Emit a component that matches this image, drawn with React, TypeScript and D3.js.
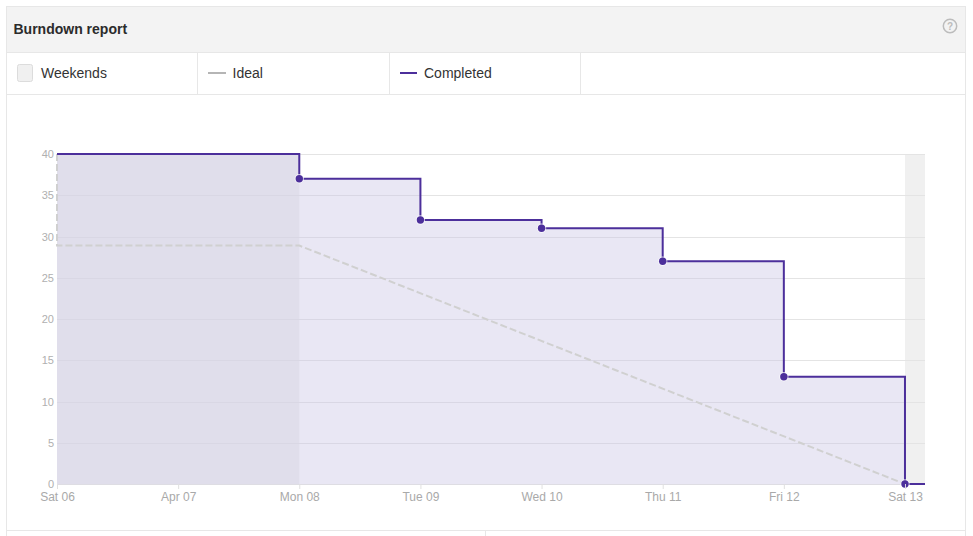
import { useEffect, useRef } from 'react';
import * as d3 from 'd3';

const dayLabels = ["Sat 06", "Apr 07", "Mon 08", "Tue 09", "Wed 10", "Thu 11", "Fri 12", "Sat 13"];
const dayDates = ["2018-04-06", "2018-04-07", "2018-04-08", "2018-04-09", "2018-04-10", "2018-04-11", "2018-04-12", "2018-04-13"];
const completedDates = ["2018-04-06", "2018-04-08", "2018-04-09", "2018-04-10", "2018-04-11", "2018-04-12", "2018-04-13"];
const completedValues = [40, 37, 32, 31, 27, 13, 0];
const idealDates = ["2018-04-06", "2018-04-06", "2018-04-08", "2018-04-13"];
const idealValues = [40, 28.9, 28.9, 0];
const weekends = [["2018-04-06", "2018-04-08"], ["2018-04-13", "2018-04-13T03:58"]];
const yTicks = [0, 5, 10, 15, 20, 25, 30, 35, 40];
const legendCells = [197.5, 389.5, 580.5];

const width = 973;
const height = 536;
const parse = (s: string) => new Date(s + (s.length > 10 ? ":00Z" : "T00:00:00Z"));

interface Pt {
  date: Date;
  value: number;
}

export default function App() {
  const chartRef = useRef<SVGGElement | null>(null);

  useEffect(() => {
    if (!chartRef.current) return;
    const g = d3.select(chartRef.current);
    g.selectAll("*").remove();

    const margin = { top: 154, right: 48, bottom: 52, left: 57 };
    const endDate = parse(weekends[1][1]);
    const x = d3.scaleUtc()
      .domain([parse(dayDates[0]), endDate])
      .range([margin.left, width - margin.right]);
    const y = d3.scaleLinear()
      .domain([0, 40])
      .range([height - margin.bottom, margin.top]);

    const completed: Pt[] = completedDates.map((d, i) => ({ date: parse(d), value: completedValues[i] }));
    const ideal: Pt[] = idealDates.map((d, i) => ({ date: parse(d), value: idealValues[i] }));

    // weekend bands sit under everything
    g.selectAll("rect.weekend")
      .data(weekends)
      .enter()
      .append("rect")
      .attr("class", "weekend")
      .attr("x", d => x(parse(d[0])))
      .attr("y", y(40))
      .attr("width", d => x(parse(d[1])) - x(parse(d[0])))
      .attr("height", y(0) - y(40) + 0.5)
      .attr("fill", "#f0f0f0");

    g.selectAll("line.grid")
      .data(yTicks)
      .enter()
      .append("line")
      .attr("class", "grid")
      .attr("x1", margin.left)
      .attr("x2", width - margin.right)
      .attr("y1", d => Math.round(y(d)) + 0.5)
      .attr("y2", d => Math.round(y(d)) + 0.5)
      .attr("stroke", "#e4e4e4")
      .attr("stroke-width", 1);

    const area = d3.area<Pt>()
      .curve(d3.curveStepAfter)
      .x(d => x(d.date))
      .y0(y(0) + 0.5)
      .y1(d => y(d.value));

    g.append("path")
      .datum(completed)
      .attr("fill", "rgb(200,195,227)")
      .attr("fill-opacity", 0.4)
      .attr("d", area);

    const idealLine = d3.line<Pt>()
      .x(d => x(d.date))
      .y(d => y(d.value));

    g.append("path")
      .datum(ideal)
      .attr("fill", "none")
      .attr("stroke", "#d0d0d0")
      .attr("stroke-width", 2)
      .attr("stroke-dasharray", "7,3")
      .attr("d", idealLine);

    const stepLine = d3.line<Pt>()
      .curve(d3.curveStepAfter)
      .x(d => x(d.date))
      .y(d => y(d.value));

    g.append("path")
      .datum([...completed, { date: endDate, value: 0 }])
      .attr("fill", "none")
      .attr("stroke", "#4c2f9b")
      .attr("stroke-width", 2)
      .attr("d", stepLine);

    g.selectAll("circle")
      .data(completed.slice(1))
      .enter()
      .append("circle")
      .attr("cx", d => x(d.date))
      .attr("cy", d => y(d.value))
      .attr("r", 3.7)
      .attr("fill", "#4c2f9b")
      .attr("stroke", "#ffffff")
      .attr("stroke-opacity", 0.7)
      .attr("stroke-width", 2)
      .style("paint-order", "stroke");

    const xAxis = d3.axisBottom(x)
      .tickValues(dayDates.map(parse))
      .tickFormat((_, i) => dayLabels[i])
      .tickSize(5)
      .tickPadding(3);

    const xG = g.append("g")
      .attr("transform", `translate(0,${y(0)})`)
      .call(xAxis);
    xG.select(".domain").remove();
    xG.selectAll("line").attr("stroke", "#e0e0e0");
    xG.selectAll("text")
      .attr("fill", "#a9a9a9")
      .attr("font-size", "12px")
      .attr("font-family", "'Liberation Sans', Arial, sans-serif");

    const yAxis = d3.axisLeft(y)
      .tickValues(yTicks)
      .tickSize(0)
      .tickPadding(3);

    const yG = g.append("g")
      .attr("transform", `translate(${margin.left},0)`)
      .call(yAxis);
    yG.select(".domain").remove();
    yG.selectAll("text")
      .attr("fill", "#b0b0b0")
      .attr("font-size", "11px")
      .attr("font-family", "'Liberation Sans', Arial, sans-serif");
  }, []);

  const border = "#e7e7e7";
  const font = "'Liberation Sans', Arial, sans-serif";

  return (
    <svg width={width} height={height} style={{ position: "absolute", left: 0, top: 0 }}>
      <rect x={6.5} y={6.5} width={959} height={560} fill="#fff" stroke={border} />
      <rect x={7} y={7} width={958} height={45} fill="#f3f3f3" />
      <line x1={7} x2={965} y1={52.5} y2={52.5} stroke={border} />
      <line x1={7} x2={965} y1={94.5} y2={94.5} stroke={border} />
      {legendCells.map(c => (
        <line key={c} x1={c} x2={c} y1={53} y2={94} stroke={border} />
      ))}
      <text x={13.5} y={34} fontFamily={font} fontSize={14} fontWeight={700} fill="#2b2b2b">Burndown report</text>
      <circle cx={950} cy={26} r={6.7} fill="none" stroke="#bcbcbc" strokeWidth={1.5} />
      <text x={950} y={29.5} textAnchor="middle" fontFamily={font} fontSize={10} fontWeight={700} fill="#bcbcbc">?</text>

      <rect x={17.5} y={64.5} width={15} height={17} rx={2} fill="#f0f0f0" stroke="#dcdcdc" />
      <text x={41} y={78} fontFamily={font} fontSize={14} fill="#333">Weekends</text>
      <line x1={208} x2={226} y1={73} y2={73} stroke="#b5b5b5" strokeWidth={2} />
      <text x={232.5} y={78} fontFamily={font} fontSize={14} fill="#333">Ideal</text>
      <line x1={400} x2={417} y1={73} y2={73} stroke="#4c2f9b" strokeWidth={2} />
      <text x={424} y={78} fontFamily={font} fontSize={14} fill="#333">Completed</text>

      <g ref={chartRef} />

      <line x1={7} x2={965} y1={530.5} y2={530.5} stroke={border} />
      <line x1={485.5} x2={485.5} y1={531} y2={536} stroke={border} />
    </svg>
  );
}
